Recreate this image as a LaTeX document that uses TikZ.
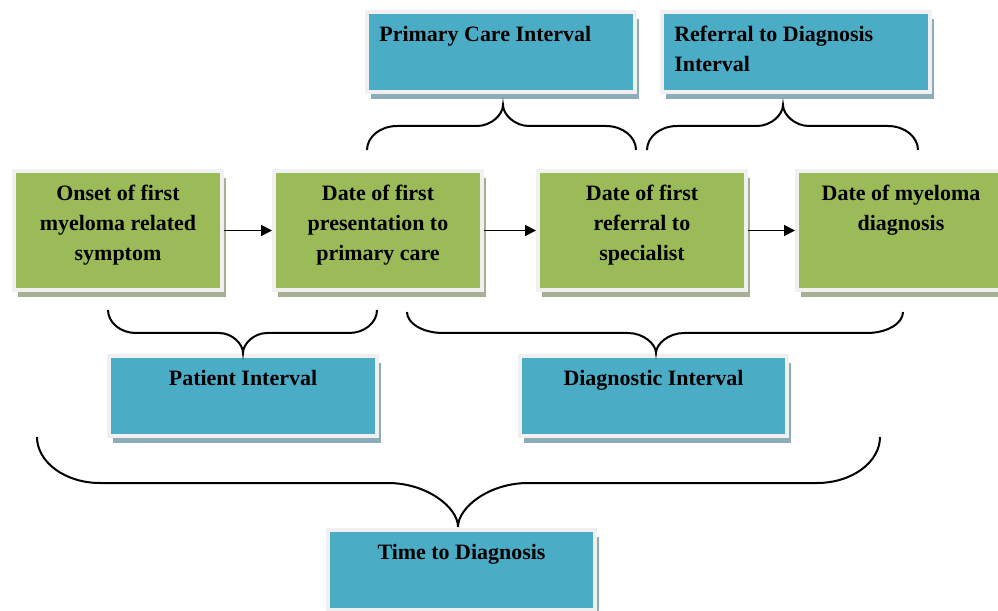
\documentclass[tikz,border=0pt]{standalone}
\usepackage{fontspec}
\setmainfont{Liberation Serif}
\usetikzlibrary{positioning}
\usetikzlibrary{shadows, arrows.meta}

\definecolor{boxgreen}{RGB}{155,187,89}
\definecolor{boxblue}{RGB}{75,172,198}
\definecolor{boxrim}{RGB}{240,240,240}
\definecolor{greenshade}{RGB}{168,176,148}
\definecolor{blueshade}{RGB}{140,172,185}

\tikzset{
  greenbox/.style={rectangle, draw=boxrim, line width=0.08cm, fill=boxgreen,
    minimum width=4.16cm, minimum height=2.38cm, inner sep=0pt,
    drop shadow={shadow xshift=0.08cm, shadow yshift=-0.14cm, fill=greenshade, opacity=1}},
  bluebox/.style={rectangle, draw=boxrim, line width=0.08cm, fill=boxblue,
    minimum width=5.36cm, minimum height=1.6cm, inner sep=0pt,
    drop shadow={shadow xshift=0.08cm, shadow yshift=-0.14cm, fill=blueshade, opacity=1}},
  boxtext/.style={font=\fontsize{12.5}{17}\selectfont\bfseries, align=center, inner sep=0pt},
  brc/.style={line width=0.04cm},
  arr/.style={line width=0.035cm, -{Triangle[length=0.22cm,width=0.22cm]}}
}

\begin{document}
\begin{tikzpicture}[x=0.02cm,y=-0.02cm]
\useasboundingbox (0,0) rectangle (998,611);

% dates
\node[greenbox] (onset) at (118,230.5) {};
\node[greenbox] (present) at (378,230.5) {};
\node[greenbox] (refer) at (642,230.5) {};
\node[greenbox] (diag) at (901,230.5) {};
\node[boxtext, below=0.32cm of onset.north] (onsetT) {Onset of first\\myeloma related\\symptom};
\node[boxtext, below=0.32cm of present.north] (presentT) {Date of first\\presentation to\\primary care};
\node[boxtext, below=0.32cm of refer.north] (referT) {Date of first\\referral to\\specialist};
\node[boxtext, below=0.32cm of diag.north] (diagT) {Date of myeloma\\diagnosis};

\draw[arr] (onset) -- (present);
\draw[arr] (present) -- (refer);
\draw[arr] (refer) -- (diag);

% intervals
\node[bluebox] (pci) at (501,52) {};
\node[bluebox] (rdi) at (796,52) {};
\node[bluebox] (pat) at (243,396) {};
\node[bluebox] (dgi) at (653.5,396) {};
\node[bluebox] (ttd) at (461.5,570) {};
\node[boxtext, align=left, below right=0.32cm and 0.28cm of pci.north west] (pciT) {Primary Care Interval};
\node[boxtext, align=left, below right=0.32cm and 0.28cm of rdi.north west] (rdiT) {Referral to Diagnosis\\Interval};
\node[boxtext, below=0.32cm of pat.north] (patT) {Patient Interval};
\node[boxtext, below=0.32cm of dgi.north] (dgiT) {Diagnostic Interval};
\node[boxtext, below=0.32cm of ttd.north] (ttdT) {Time to Diagnosis};

% braces
\draw[brc] (367,150) .. controls (367,136.8) and (380.5,126) .. (397,126) -- (477,126)
  .. controls (491.3,126) and (503,114.5) .. (503,105)
  .. controls (503,114.5) and (514.7,126) .. (529,126) -- (606,126)
  .. controls (622.5,126) and (636,136.8) .. (636,150);
\draw[brc] (647,150) .. controls (647,136.8) and (660.5,126) .. (677,126) -- (757,126)
  .. controls (771.3,126) and (783,114.5) .. (783,105)
  .. controls (783,114.5) and (794.7,126) .. (809,126) -- (888,126)
  .. controls (904.5,126) and (918,136.8) .. (918,150);
\draw[brc] (108,310) .. controls (108,322.7) and (120.6,333) .. (136,333) -- (219,333)
  .. controls (232.2,333) and (243,344) .. (243,353)
  .. controls (243,344) and (253.8,333) .. (267,333) -- (349,333)
  .. controls (364.4,333) and (377,322.7) .. (377,310);
\draw[brc] (407,312) .. controls (407,323.6) and (423.2,333) .. (443,333) -- (628,333)
  .. controls (643.4,333) and (656,344) .. (656,353)
  .. controls (656,344) and (668.6,333) .. (684,333) -- (867,333)
  .. controls (886.8,333) and (903,323.6) .. (903,312);
\draw[brc] (37,437) .. controls (37,462.3) and (65.35,483) .. (100,483) -- (388,483)
  .. controls (426.5,483) and (458,507.2) .. (458,527)
  .. controls (458,507.2) and (489.5,483) .. (528,483) -- (817,483)
  .. controls (851.65,483) and (880,462.3) .. (880,437);

\end{tikzpicture}
\end{document}
